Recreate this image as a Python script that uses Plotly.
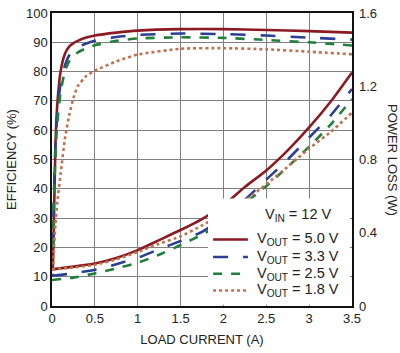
import plotly.graph_objects as go

# ---- data ----
eff_current = [0.01, 0.02, 0.04, 0.06, 0.1, 0.15, 0.2, 0.25, 0.3, 0.4, 0.5, 0.75, 1.0, 1.5, 2.0, 2.5, 3.0, 3.5]
eff_5v0 = [13, 25, 55, 68, 80, 86, 88.5, 89.7, 90.5, 91.6, 92.3, 93.3, 94.0, 94.5, 94.5, 94.2, 93.8, 93.3]
eff_3v3 = [20, 35, 55, 65, 76, 82, 85.5, 87.2, 88.3, 89.6, 90.5, 91.8, 92.5, 93.0, 92.8, 92.3, 91.6, 90.9]
eff_2v5 = [20, 33, 52, 62, 73, 80, 83.5, 85.2, 86.5, 88.0, 89.0, 90.5, 91.3, 91.7, 91.5, 90.8, 90.0, 88.9]
eff_1v8 = [10, 18, 28, 35, 45, 57, 65, 71, 75, 78.5, 80.3, 83.5, 85.8, 87.8, 88.0, 87.6, 86.8, 85.9]

loss_current = [0, 0.25, 0.5, 0.75, 1.0, 1.25, 1.5, 1.75, 2.0, 2.25, 2.5, 2.75, 3.0, 3.25, 3.5]
loss_5v0 = [0.20, 0.215, 0.232, 0.262, 0.305, 0.36, 0.415, 0.475, 0.55, 0.65, 0.74, 0.85, 0.975, 1.115, 1.275]
loss_3v3 = [0.165, 0.178, 0.198, 0.228, 0.263, 0.31, 0.355, 0.405, 0.48, 0.58, 0.69, 0.80, 0.92, 1.04, 1.185]
loss_2v5 = [0.142, 0.155, 0.178, 0.205, 0.236, 0.28, 0.333, 0.39, 0.455, 0.56, 0.655, 0.76, 0.87, 0.99, 1.13]
loss_1v8 = [0.20, 0.21, 0.225, 0.255, 0.295, 0.34, 0.38, 0.44, 0.505, 0.575, 0.665, 0.76, 0.86, 0.95, 1.055]

series_names = ["V<sub>OUT</sub> = 5.0 V", "V<sub>OUT</sub> = 3.3 V", "V<sub>OUT</sub> = 2.5 V", "V<sub>OUT</sub> = 1.8 V"]
legend_title = "V<sub>IN</sub> = 12 V"
x_ticks = [0, 0.5, 1, 1.5, 2, 2.5, 3, 3.5]
x_tick_labels = ["0", "0.5", "1", "1.5", "2", "2.5", "3", "3.5"]
y2_ticks = [0, 0.4, 0.8, 1.2, 1.6]
y2_tick_labels = ["0", "0.4", "0.8", "1.2", "1.6"]

colors = ["#8b1a22", "#2b3f94", "#1f7f3c", "#c0714e"]
dashes = ["solid", "longdash", "dash", "dot"]

FONT = "Liberation Sans, Arial, sans-serif"

fig = go.Figure()
eff_all = [eff_5v0, eff_3v3, eff_2v5, eff_1v8]
loss_all = [loss_5v0, loss_3v3, loss_2v5, loss_1v8]
for i in range(4):
    fig.add_trace(go.Scatter(x=eff_current, y=eff_all[i], mode="lines", name=series_names[i],
                             showlegend=False,
                             line=dict(color=colors[i], dash=dashes[i], width=2.6, shape="spline", smoothing=0.5)))
    fig.add_trace(go.Scatter(x=loss_current, y=loss_all[i], mode="lines", name=series_names[i],
                             showlegend=False, yaxis="y2",
                             line=dict(color=colors[i], dash=dashes[i], width=2.6, shape="spline", smoothing=0.5)))

fig.update_layout(
    width=400, height=353,
    margin=dict(l=52, r=48, t=6, b=47),
    paper_bgcolor="white", plot_bgcolor="white",
    font=dict(family=FONT, size=13, color="#222"),
    xaxis=dict(range=[0, 3.5], tickvals=x_ticks, ticktext=x_tick_labels,
               showgrid=True, gridcolor="#808080", gridwidth=1,
               showline=True, linecolor="#111", linewidth=1.5, mirror=True,
               zeroline=False, ticks="",
               title=dict(text="LOAD CURRENT (A)", font=dict(size=13), standoff=10)),
    yaxis=dict(range=[0, 100], dtick=10, showgrid=True, gridcolor="#808080", gridwidth=1,
               showline=True, linecolor="#111", linewidth=1.5, mirror=True,
               zeroline=False, ticks="",
               title=dict(text="EFFICIENCY (%)", font=dict(size=13), standoff=6)),
    yaxis2=dict(range=[0, 1.6], tickvals=y2_ticks, ticktext=y2_tick_labels,
                overlaying="y", side="right", showgrid=False, zeroline=False, ticks="",
                showline=False, ticklabelstandoff=6),
    showlegend=False,
)

# ---- legend drawn as a panel in the lower-right of the plot ----
fig.add_shape(type="rect", xref="paper", yref="paper", x0=0.52, x1=0.993, y0=0.004, y1=0.367,
              fillcolor="white", line=dict(width=0), layer="above")
fig.add_annotation(text=legend_title, xref="paper", yref="paper", x=0.82, y=0.31,
                   showarrow=False, font=dict(size=14.5, family=FONT), xanchor="center", yanchor="middle")
row_y = [0.227, 0.167, 0.11, 0.053]
for i in range(4):
    fig.add_shape(type="line", xref="paper", yref="paper", x0=0.537, x1=0.653, y0=row_y[i], y1=row_y[i],
                  line=dict(color=colors[i], dash=dashes[i], width=2.6), layer="above")
    fig.add_annotation(text=series_names[i], xref="paper", yref="paper", x=0.677, y=row_y[i],
                       showarrow=False, font=dict(size=14.5, family=FONT), xanchor="left", yanchor="middle")

fig.add_annotation(text="POWER LOSS (W)", xref="paper", yref="paper", x=1.135, y=0.5,
                   textangle=90, showarrow=False, font=dict(size=13, family=FONT),
                   xanchor="center", yanchor="middle")

fig.write_html("out.html")
